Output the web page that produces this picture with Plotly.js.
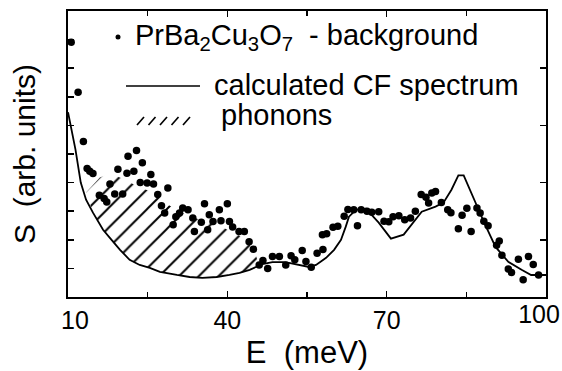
<!DOCTYPE html>
<html>
<head>
<meta charset="utf-8">
<script src="https://cdn.plot.ly/plotly-3.0.1.min.js"></script>
<style>html,body{margin:0;padding:0;background:#fff;}#chart{width:562px;height:371px;}</style>
</head>
<body>
<div id="chart"></div>
<script>
// Measured spectrum (PrBa2Cu3O7 - background): energy (meV) and intensity (arb. units)
const dataE = [10.6, 11.9, 12.9, 13.6, 14.1, 14.7, 15.9, 16.8, 17.3, 17.9, 18.8, 19.4, 20.3, 21.1, 21.3,
  22.4, 22.9, 23.6, 24.0, 24.9, 25.6, 26.1, 26.9, 27.6, 28.2, 28.8, 29.8, 30.3, 31.0, 31.6,
  32.6, 33.5, 33.8, 35.1, 35.7, 36.3, 36.6, 37.3, 38.5, 38.8, 40.0, 40.4, 41.0, 42.2, 43.2,
  44.1, 44.9, 46.0, 46.7, 47.6, 48.5, 49.8, 51.0, 52.0, 52.7, 54.1, 54.8, 55.8, 56.9, 58.0,
  57.9, 58.7, 59.9, 60.8, 62.0, 62.7, 63.8, 64.5, 65.2, 66.3, 67.2, 68.5, 69.5, 70.4, 71.2,
  72.3, 73.4, 74.5, 75.4, 76.5, 77.4, 77.9, 78.5, 79.2, 80.3, 81.5, 82.1, 83.5, 84.2, 85.1,
  85.9, 87.0, 87.6, 88.3, 89.1, 90.7, 91.2, 91.7, 92.9, 93.5, 94.8, 95.7, 96.7, 97.6, 98.6];
const dataS = [8.91, 7.16, 5.44, 4.49, 4.40, 4.32, 3.56, 3.44, 3.32, 3.95, 3.60, 4.47, 3.60, 4.33, 4.92,
  4.40, 5.12, 4.00, 4.69, 3.99, 4.28, 3.95, 3.58, 3.19, 2.94, 3.81, 2.53, 2.81, 2.94, 3.11,
  3.05, 2.76, 2.29, 2.61, 3.26, 2.35, 2.88, 2.64, 3.05, 2.67, 3.26, 2.64, 2.45, 2.29, 2.29,
  1.93, 1.67, 1.12, 1.28, 1.00, 1.42, 1.42, 1.12, 1.44, 1.30, 1.63, 1.24, 1.04, 1.53, 1.66,
  2.18, 2.21, 2.44, 2.47, 2.82, 3.06, 3.05, 2.49, 3.05, 3.00, 2.96, 2.98, 2.65, 2.63, 2.81,
  2.84, 2.70, 2.76, 3.00, 3.58, 3.49, 3.29, 3.64, 3.69, 3.30, 3.05, 2.95, 2.39, 2.86, 3.10,
  2.29, 3.11, 2.94, 2.65, 2.49, 1.81, 1.96, 1.46, 0.98, 0.86, 1.32, 0.60, 1.42, 1.14, 0.77];

// Calculated CF spectrum
const calcE = [10, 10.7, 11.4, 12.4, 13.4, 14.7, 16.6, 18.2, 19.8, 21.6, 23.5, 25.4, 27.3, 30.5, 32.9,
  35.3, 38.0, 40.4, 42.3, 44.2, 45.5, 46.6, 48.5, 50.5, 51.6, 53.5, 55.4, 56.7, 58.6, 60.1,
  61.4, 62.3, 62.9, 64.2, 66.1, 68.5, 70.8, 73.2, 74.7, 76.6, 79.2, 80.7, 82.2, 83.5, 84.5,
  86.7, 88.6, 90.5, 92.9, 95.4, 97.2, 99.1, 100];
const calcS = [6.46, 5.85, 5.16, 4.0, 3.4, 2.95, 2.35, 2.0, 1.65, 1.3, 1.12, 1.02, 0.88, 0.77, 0.70,
  0.67, 0.70, 0.77, 0.84, 0.95, 1.05, 1.15, 1.22, 1.22, 1.19, 1.12, 1.05, 1.12, 1.37, 1.65,
  2.0, 2.46, 2.81, 3.05, 3.09, 2.6, 2.04, 2.18, 2.53, 2.98, 3.16, 3.3, 3.75, 4.25, 4.25,
  3.3, 2.5, 1.75, 1.23, 0.95, 0.77, 0.77, 0.77];

// Upper edge of the hatched phonon contribution
const phononE = [13.4, 16.0, 17.9, 20.7, 23.5, 26.3, 28.2, 31.0, 34.8, 38.5, 42.3, 44.1, 45.3, 45.8];
const phononS = [3.65, 4.18, 4.32, 4.11, 3.82, 3.65, 3.30, 2.98, 2.70, 2.49, 2.14, 1.86, 1.51, 1.19];

// Axis ticks
const xTickVals = [10, 40, 70];
const xTickText = ['&nbsp;&nbsp;10', '40', '70'];
const xEndTickVals = [100];
const xEndTickText = ['100'];
const xMinorTickVals = [25, 55, 85];
const yTickVals = [1, 2, 3, 4, 5, 6, 7, 8, 9];
const y2TickVals = [2, 4, 6, 8];

// Legend labels
const legendLabels = ['PrBa<sub>2</sub>Cu<sub>3</sub>O<sub>7</sub>&nbsp;&nbsp;- background',
  'calculated CF spectrum', 'phonons'];

// Build the hatched polygon: upper edge, then the calculated curve back underneath it
const eMin = phononE[0], eMax = phononE[phononE.length - 1];
const polyE = phononE.slice(), polyS = phononS.slice();
for (let i = calcE.length - 1; i >= 0; i--) {
  if (calcE[i] > eMin && calcE[i] < eMax) { polyE.push(calcE[i]); polyS.push(calcS[i]); }
}
polyE.push(phononE[0]); polyS.push(phononS[0]);

const FONT = '"Liberation Sans", Arial, Helvetica, sans-serif';

const traces = [
  { x: polyE, y: polyS, type: 'scatter', mode: 'lines', fill: 'toself',
    fillcolor: 'rgba(0,0,0,0)', line: { width: 0, color: 'rgba(0,0,0,0)' },
    fillpattern: { shape: '/', size: 14, solidity: 0.14, fgcolor: '#000', bgcolor: 'rgba(0,0,0,0)', fgopacity: 1 },
    hoverinfo: 'skip', showlegend: false },
  { x: calcE, y: calcS, type: 'scatter', mode: 'lines', line: { color: '#000', width: 1.8 },
    showlegend: false },
  { x: dataE, y: dataS, type: 'scatter', mode: 'markers', marker: { color: '#000', size: 7.5 },
    showlegend: false },
  { x: [null], y: [null], yaxis: 'y2', type: 'scatter', mode: 'markers', showlegend: false, hoverinfo: 'skip' },
  { x: [null], y: [null], xaxis: 'x2', type: 'scatter', mode: 'markers', showlegend: false, hoverinfo: 'skip' }
];

// legend placement (paper coordinates)
const lx = (px) => (px - 68) / 478;
const ly = (py) => (297 - py) / 286;

const hatchShapes = [];
for (let k = 0; k < 5; k++) {
  const x0 = 137 + k * 11.5;
  hatchShapes.push({ type: 'line', xref: 'paper', yref: 'paper',
    x0: lx(x0), y0: ly(125), x1: lx(x0 + 7), y1: ly(117), line: { color: '#000', width: 1.6 } });
}

const tickStyle = { ticks: 'inside', ticklen: 6, tickwidth: 1.5, tickcolor: '#000' };
const tickFont = { size: 25, family: FONT, color: '#000' };

const layout = {
  width: 562, height: 371,
  margin: { l: 68, r: 16, t: 11, b: 74 },
  paper_bgcolor: '#fff', plot_bgcolor: '#fff',
  font: { family: FONT, color: '#000' },
  showlegend: false,
  xaxis: Object.assign({
    range: [10, 100], tickvals: xTickVals, ticktext: xTickText,
    minor: { tickvals: xMinorTickVals, ticks: 'inside', ticklen: 5, tickwidth: 1.5, tickcolor: '#000', showgrid: false },
    showline: true, linecolor: '#000', linewidth: 2, mirror: 'ticks',
    showgrid: false, zeroline: false, tickfont: tickFont,
    title: { text: 'E&nbsp;&nbsp;(meV)', font: { size: 31, family: FONT, color: '#000' }, standoff: 8 }
  }, tickStyle),
  xaxis2: Object.assign({
    range: [10, 100], overlaying: 'x', side: 'bottom', anchor: 'y',
    tickvals: xEndTickVals, ticktext: xEndTickText, ticklabelshift: -7, ticklabeloverflow: 'allow',
    showline: false, showgrid: false, zeroline: false, tickfont: tickFont
  }, tickStyle),
  yaxis: Object.assign({
    range: [0, 10], tickvals: yTickVals, showticklabels: false,
    showline: true, linecolor: '#000', linewidth: 2, mirror: false,
    showgrid: false, zeroline: false,
    title: { text: 'S&nbsp;&nbsp;(arb. units)', font: { size: 30, family: FONT, color: '#000' }, standoff: 22 }
  }, tickStyle),
  yaxis2: Object.assign({
    range: [0, 10], overlaying: 'y', side: 'right', tickvals: y2TickVals, showticklabels: false,
    showline: true, linecolor: '#000', linewidth: 2, showgrid: false, zeroline: false
  }, tickStyle),
  shapes: [
    { type: 'circle', xref: 'paper', yref: 'paper', xsizemode: 'pixel', ysizemode: 'pixel',
      xanchor: lx(118), yanchor: ly(37), x0: -2.5, x1: 2.5, y0: -2.5, y1: 2.5,
      fillcolor: '#000', line: { width: 0 } },
    { type: 'line', xref: 'paper', yref: 'paper', x0: lx(126), x1: lx(200), y0: ly(86), y1: ly(86),
      line: { color: '#000', width: 1.6 } }
  ].concat(hatchShapes),
  annotations: [
    { text: legendLabels[0], xref: 'paper', yref: 'paper', x: lx(133), y: ly(37),
      xanchor: 'left', yanchor: 'middle', showarrow: false, font: { size: 29, family: FONT, color: '#000' } },
    { text: legendLabels[1], xref: 'paper', yref: 'paper', x: lx(212), y: ly(85),
      xanchor: 'left', yanchor: 'middle', showarrow: false, font: { size: 29, family: FONT, color: '#000' } },
    { text: legendLabels[2], xref: 'paper', yref: 'paper', x: lx(219), y: ly(115),
      xanchor: 'left', yanchor: 'middle', showarrow: false, font: { size: 29, family: FONT, color: '#000' } }
  ]
};

Plotly.newPlot('chart', traces, layout, { staticPlot: true, displayModeBar: false });
</script>
</body>
</html>
